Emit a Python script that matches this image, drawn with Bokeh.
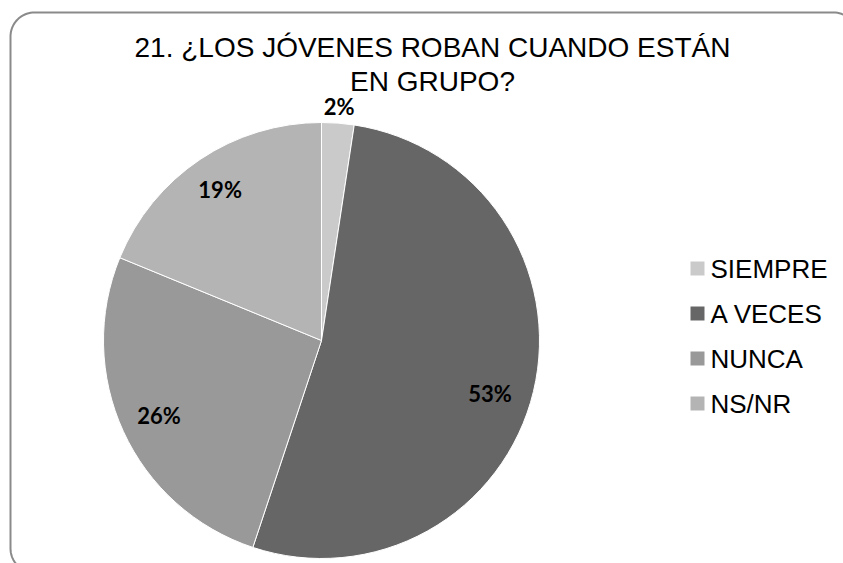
import numpy as np
from bokeh.plotting import figure
from bokeh.models import Range1d, ColumnDataSource
from bokeh.core.properties import value
from bokeh.embed import file_html
from bokeh.resources import INLINE

# ---- data ----
categories = ["SIEMPRE", "A VECES", "NUNCA", "NS/NR"]
percent = [2.4, 52.7, 26.1, 18.8]
colors = ["#CACACA", "#666666", "#999999", "#B4B4B4"]
title_lines = ["21. ¿LOS JÓVENES ROBAN CUANDO ESTÁN", "EN GRUPO?"]

W, H = 843, 563
X0, Y0 = 0, 0  # page offset of canvas

p = figure(width=W, height=H, output_backend="svg", toolbar_location=None,
           x_range=Range1d(X0, X0 + W), y_range=Range1d(-(Y0 + H), -Y0),
           min_border=0, outline_line_color=None)
p.axis.visible = False
p.grid.visible = False
p.background_fill_color = "white"

# ---- rounded border (decoration) ----
L, T, R, B, rad = 10, 12, 857, 572, 24
def arc(cx, cy, a0, a1):
    t = np.linspace(a0, a1, 20)
    return cx + rad * np.cos(t), cy + rad * np.sin(t)
xs, ys = [], []
for (cx, cy, a0, a1) in [(L + rad, T + rad, np.pi, 1.5 * np.pi),
                         (R - rad, T + rad, 1.5 * np.pi, 2 * np.pi),
                         (R - rad, B - rad, 0, 0.5 * np.pi),
                         (L + rad, B - rad, 0.5 * np.pi, np.pi)]:
    ax, ay = arc(cx, cy, a0, a1)
    xs += list(ax); ys += list(ay)
xs.append(xs[0]); ys.append(ys[0])
p.line(xs, [-y for y in ys], line_color="#8A8A8A", line_width=2)

# ---- pie ----
cx, cy, r = 321, -340, 218
vals = np.array(percent, dtype=float)
frac = vals / vals.sum()
cum_end = np.cumsum(frac) * 2 * np.pi
cum_start = cum_end - frac * 2 * np.pi
start_angle = np.pi / 2 - cum_end
end_angle = np.pi / 2 - cum_start
src = ColumnDataSource(dict(cat=categories, start=start_angle, end=end_angle, color=colors))
p.wedge(x=cx, y=cy, radius=r, start_angle="start", end_angle="end",
        fill_color="color", line_color="white", line_width=1, source=src)

# ---- data labels ----
mid = (cum_start + cum_end) / 2 + np.radians([0, 4, 0, 0])
rfac = [1.075, 0.81, 0.82, 0.835]
lx = [cx + r * f * np.sin(m) for f, m in zip(rfac, mid)]
ly = [cy + r * f * np.cos(m) for f, m in zip(rfac, mid)]
labels = [f"{round(v)}%" for v in percent]
p.text(x=lx, y=ly, text=labels, text_align="center", text_baseline="middle",
       text_font=value("Lato"), text_font_style="bold", text_font_size="22px",
       text_color="#000000")

# ---- title ----
p.text(x=[432, 432], y=[-47, -81], text=title_lines, text_align="center",
       text_baseline="middle", text_font=value("Liberation Sans"),
       text_font_size="28px", text_color="#000000")

# ---- legend (manual) ----
leg_y = [-(268 + 45 * i) for i in range(len(categories))]
p.scatter(x=[697] * len(categories), y=leg_y, marker="square", size=14,
          fill_color=colors, line_color=None)
p.text(x=[710] * len(categories), y=leg_y, text=categories, text_align="left",
       text_baseline="middle", text_font=value("Liberation Sans"),
       text_font_size="26px", text_color="#000000")

open("out.html", "w").write(file_html(p, INLINE))
